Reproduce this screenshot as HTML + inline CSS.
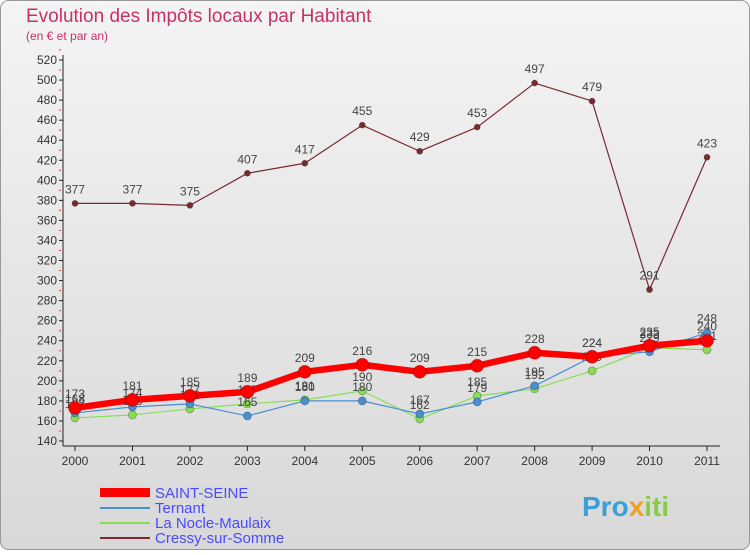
<!DOCTYPE html>
<html><head><meta charset="utf-8"><style>
body{margin:0;background:#fff;font-family:"Liberation Sans",sans-serif}
svg text{font-family:"Liberation Sans",sans-serif}
</style></head><body>
<svg id="c" width="750" height="550" xmlns="http://www.w3.org/2000/svg">
<defs><linearGradient id="bg" x1="0" y1="0" x2="0" y2="1"><stop offset="0" stop-color="#f4f4f4"/><stop offset="1" stop-color="#d8d8d8"/></linearGradient></defs>
<rect x="0.5" y="0.5" width="749" height="549" rx="8" fill="url(#bg)" stroke="#999"/>
<text x="26" y="22" font-size="19" fill="#c8306a">Evolution des Impôts locaux par Habitant</text>
<text x="26" y="40" font-size="12" fill="#c8306a">(en € et par an)</text>
<g id="axes"></g><g id="series"></g>
<g>
<rect x="100" y="488" width="50" height="9" fill="#ff0000"/>
<text x="155" y="498" font-size="15" fill="#4a4aff">SAINT-SEINE</text>
<line x1="100" y1="508" x2="150" y2="508" stroke="#4a8fd0" stroke-width="2"/>
<text x="155" y="513" font-size="15" fill="#4a4aff">Ternant</text>
<line x1="100" y1="523" x2="150" y2="523" stroke="#88dd55" stroke-width="2"/>
<text x="155" y="528" font-size="15" fill="#4a4aff">La Nocle-Maulaix</text>
<line x1="100" y1="538" x2="150" y2="538" stroke="#7a2a30" stroke-width="2"/>
<text x="155" y="543" font-size="15" fill="#4a4aff">Cressy-sur-Somme</text>
</g>
<text x="582" y="516" font-size="28" font-weight="bold" fill="#3aa0d8">Pro<tspan fill="#f0a020">x</tspan><tspan fill="#88cc44">iti</tspan></text>
</svg>
<script>
const years=["2000","2001","2002","2003","2004","2005","2006","2007","2008","2009","2010","2011"];
const yTicks=[140,160,180,200,220,240,260,280,300,320,340,360,380,400,420,440,460,480,500,520];
const saintSeine=[173,181,185,189,209,216,209,215,228,224,235,240];
const ternant=[168,174,177,165,180,180,167,179,195,224,229,248];
const laNocle=[163,166,172,177,181,190,162,185,192,210,233,231];
const cressy=[377,377,375,407,417,455,429,453,497,479,291,423];
const NS="http://www.w3.org/2000/svg";
const X=i=>75+i*(707-75)/11;
const Y=v=>441-(v-140)*381/380;
function mk(t,a,p){const e=document.createElementNS(NS,t);for(const k in a)e.setAttribute(k,a[k]);p.appendChild(e);return e;}
const ax=document.getElementById('axes');
const yl=mk('line',{x1:63,y1:55,x2:63,y2:446,stroke:'#222'},ax);

const xl=mk('line',{x1:63,y1:446,x2:720,y2:446,stroke:'#222'},ax);

yTicks.forEach(v=>{
 mk('line',{x1:59,y1:Y(v),x2:63,y2:Y(v),stroke:'#222'},ax);
 mk('line',{x1:59,y1:Y(v+10),x2:61,y2:Y(v+10),stroke:'#e33'},ax);
 const t=mk('text',{x:57,y:Y(v)+4,'font-size':12,'text-anchor':'end',fill:'#333'},ax);
 t.textContent=v;
});
years.forEach((y,i)=>{
 mk('line',{x1:X(i),y1:446,x2:X(i),y2:451,stroke:'#222'},ax);
 const t=mk('text',{x:X(i),y:465,'font-size':12,'text-anchor':'middle',fill:'#333'},ax);
 t.textContent=y;
});
const sg=document.getElementById('series');
function draw(vals,color,w,r,name,labels){
 const g=mk('g',{},sg);
 
 mk('polyline',{points:vals.map((v,i)=>X(i)+','+Y(v)).join(' '),fill:'none',stroke:color,'stroke-width':w,'stroke-linejoin':'round'},g);
 vals.forEach((v,i)=>{
  const c=mk('circle',{cx:X(i),cy:Y(v),r:r,fill:color,stroke:'rgba(0,0,0,0.25)'},g);
  
  if(labels){const t=mk('text',{x:X(i),y:Y(v)-10,'font-size':12,'text-anchor':'middle',fill:'#444'},g);
  t.textContent=v;}
 });
}
draw(cressy,'#7a2a30',1.2,3,'cressy-series',true);
draw(laNocle,'#88dd55',1.2,4,'la-nocle-series',true);
draw(ternant,'#4a8fd0',1.2,4,'ternant-series',true);
draw(saintSeine,'#ff0000',6.5,6.5,'saint-seine-series',true);
</script>
</body></html>
